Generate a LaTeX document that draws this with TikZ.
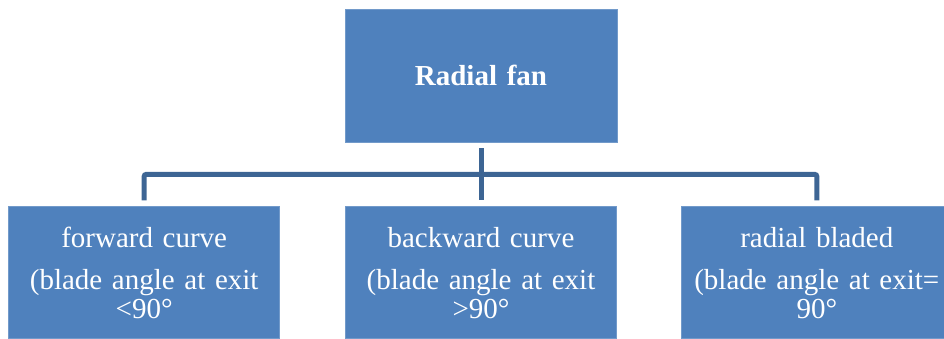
\documentclass[tikz,border=0pt]{standalone}
\usepackage{fontspec}
\setmainfont{Liberation Serif}
\usetikzlibrary{positioning, calc}

\definecolor{boxblue}{HTML}{4F81BD}
\definecolor{linkblue}{HTML}{3D6594}

\begin{document}
\begin{tikzpicture}[
    x=1pt, y=1pt,
    node distance=64pt,
    block/.style={rectangle, fill=boxblue, draw=boxblue!80!white, line width=0.8pt, text=white, inner sep=0pt, minimum width=271pt, minimum height=132pt, text width=262pt, align=center, font=\fontsize{29}{29}\selectfont},
    line/.style={draw=linkblue, line width=5pt, rounded corners=2pt}
]

\path[use as bounding box, clip] (0,0) rectangle (944,-338);

\node [block, minimum width=272pt, minimum height=133pt, font=\fontsize{29}{29}\selectfont\bfseries] (fan) at (481,-75.5) {Radial fan};
\node [block, below=64pt of fan] (backward) {backward curve\\[13pt](blade angle at exit\\>90°};
\node [block, left=65pt of backward] (forward) {forward curve\\[13pt](blade angle at exit\\<90°};
\node [block, right=64pt of backward] (radial) {radial bladed\\[13pt](blade angle at exit=\\90°};

\coordinate (bus) at ($(fan.south)!0.5!(backward.north)$);

\path [line] ([yshift=-6pt]fan.south) -- ([yshift=6pt]backward.north);
\path [line] ([yshift=6pt]forward.north) |- (bus) -| ([yshift=6pt]radial.north);

\end{tikzpicture}
\end{document}
